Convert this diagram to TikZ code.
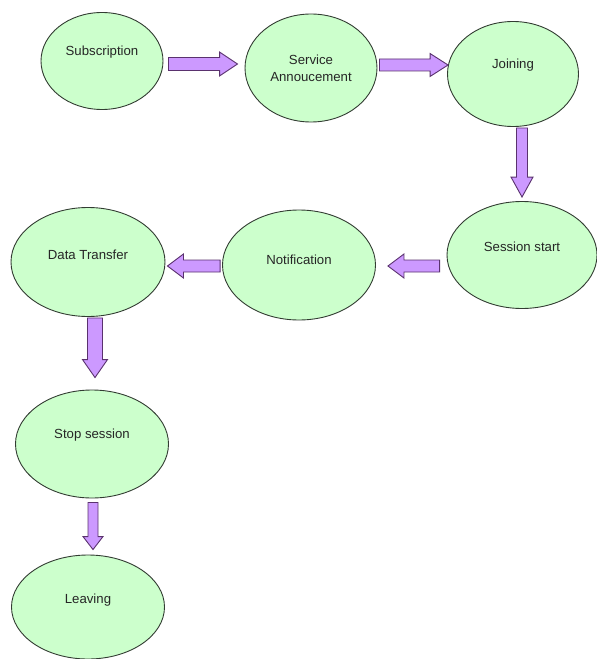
\documentclass[tikz,border=0pt]{standalone}
\usepackage{fontspec}
\setmainfont{Liberation Sans}
\usetikzlibrary{shapes.geometric,calc}
\definecolor{stagegreen}{RGB}{204,255,204}
\definecolor{stageline}{RGB}{50,60,50}
\definecolor{arrowfill}{RGB}{204,153,255}
\definecolor{arrowline}{RGB}{90,50,110}
\tikzset{
  stage/.style={ellipse, draw=stageline, fill=stagegreen, line width=0.9bp, inner sep=0pt},
  stagetext/.style={font=\fontsize{13.2bp}{17bp}\selectfont, text=black!85, align=center, inner sep=0pt},
  blockarrow/.style={draw=arrowline, fill=arrowfill, line width=0.9bp, line join=miter}
}
% #1 start, #2 tip, #3 shaft half width, #4 head half width, #5 head length
\newcommand\barrow[5]{%
  \path[blockarrow] let \p1=(#1), \p2=(#2), \n1={atan2(\y2-\y1,\x2-\x1)} in
    ($(\p1)+(\n1+90:#3)$) --
    ($(\p2)+(\n1+180:#5)+(\n1+90:#3)$) --
    ($(\p2)+(\n1+180:#5)+(\n1+90:#4)$) --
    (\p2) --
    ($(\p2)+(\n1+180:#5)+(\n1-90:#4)$) --
    ($(\p2)+(\n1+180:#5)+(\n1-90:#3)$) --
    ($(\p1)+(\n1-90:#3)$) -- cycle;}
\begin{document}
\begin{tikzpicture}[x=1bp,y=-1bp]
\useasboundingbox (0,0) rectangle (597,659);
% stages
\node[stage, minimum width=122bp, minimum height=97bp] (sub) at (102,61) {};
\node[stage, minimum width=132bp, minimum height=108bp] (svc) at (311,68) {};
\node[stage, minimum width=131bp, minimum height=105bp] (join) at (513,74) {};
\node[stage, minimum width=150bp, minimum height=107bp] (sess) at (522,255) {};
\node[stage, minimum width=153bp, minimum height=110bp] (notif) at (299,265) {};
\node[stage, minimum width=154bp, minimum height=109bp] (data) at (88,262) {};
\node[stage, minimum width=153bp, minimum height=108bp] (stop) at (92,444) {};
\node[stage, minimum width=153bp, minimum height=104bp] (leave) at (88,607) {};
% texts
\node[stagetext] (sub-t) at ($(sub)+(0,-9)$) {Subscription};
\node[stagetext] (svc-t) at ($(svc)+(0,0)$) {Service\\Annoucement};
\node[stagetext] (join-t) at ($(join)+(0,-9)$) {Joining};
\node[stagetext] (sess-t) at ($(sess)+(0,-8)$) {Session start};
\node[stagetext] (notif-t) at ($(notif)+(0,-5)$) {Notification};
\node[stagetext] (data-t) at ($(data)+(0,-7)$) {Data Transfer};
\node[stagetext] (stop-t) at ($(stop)+(0,-9)$) {Stop session};
\node[stagetext] (leave-t) at ($(leave)+(0,-7)$) {Leaving};
% arrow ends
\coordinate (a1s) at ($(sub.east)+(5,3)$);
\coordinate (a1e) at ($(svc.west)+(-7,-4)$);
\coordinate (a2s) at ($(svc.east)+(2,-3)$);
\coordinate (a2e) at ($(join.west)+(1,-9)$);
\coordinate (a3s) at ($(join.south)+(9,1)$);
\coordinate (a3e) at ($(sess.north)+(0,-4)$);
\coordinate (a4s) at ($(sess.west)+(-7,11)$);
\coordinate (a4e) at ($(notif.east)+(12,1)$);
\coordinate (a5s) at ($(notif.west)+(-2,1)$);
\coordinate (a5e) at ($(data.east)+(2,4)$);
\coordinate (a6s) at ($(data.south)+(7,1)$);
\coordinate (a6e) at ($(stop.north)+(3,-12)$);
\coordinate (a7s) at ($(stop.south)+(1,4)$);
\coordinate (a7e) at ($(leave.north)+(5,-5)$);
% block arrows
\barrow{a1s}{a1e}{6.5bp}{12bp}{18bp}
\barrow{a2s}{a2e}{6bp}{11.5bp}{18bp}
\barrow{a3s}{a3e}{5.5bp}{11bp}{20bp}
\barrow{a4s}{a4e}{6bp}{12bp}{16bp}
\barrow{a5s}{a5e}{6bp}{12bp}{16bp}
\barrow{a6s}{a6e}{7.5bp}{12.5bp}{18bp}
\barrow{a7s}{a7e}{5bp}{10bp}{13bp}
\end{tikzpicture}
\end{document}
